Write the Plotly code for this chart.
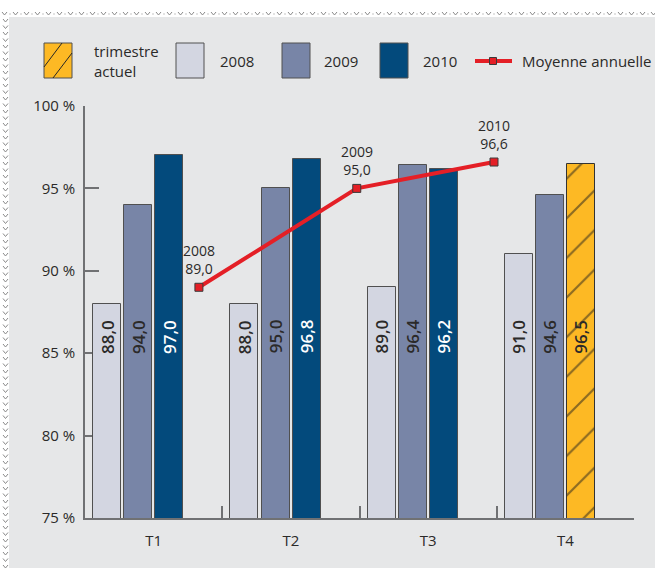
import plotly.graph_objects as go

# ---- data -------------------------------------------------------------
quarters = ["T1", "T2", "T3", "T4"]
vals_2008 = [88.0, 88.0, 89.0, 91.0]
vals_2009 = [94.0, 95.0, 96.4, 94.6]
vals_2010 = [97.0, 96.8, 96.2]          # T1..T3
current_quarters = ["T4"]
current_values = [96.5]
avg_years = ["2008", "2009", "2010"]
avg_values = [89.0, 95.0, 96.6]
avg_pos = [0.33, 1.48, 2.48]             # position on the quarter scale
y_ticks = [75, 80, 85, 90, 95, 100]
y_ticktext = ["75 %", "80 %", "85 %", "90 %", "95 %", "100 %"]

# ---- styling ----------------------------------------------------------
W, H = 655, 568
ML, MR, MT, MB = 85, 21, 106, 50
FONT = "Open Sans"
TXT = "#2b2a29"
AXIS = "#707173"
BG = "#e6e7e8"
C2008, C2009, C2010 = "#d3d6e1", "#7885a7", "#034a7c"
CYEL, CRED = "#fdb924", "#e41f26"
EDGE = "#505050"
BAR_W = 0.204
BAR_OFF = [-0.44, -0.214, 0.012]         # left edge of each year slot


def fr(v):
    return f"{v:.1f}".replace(".", ",")


def px(x):
    return (x - ML) / (W - ML - MR)


def py(y):
    return (H - MB - y) / (H - MT - MB)


fig = go.Figure()

series = [
    ("2008", quarters, vals_2008, C2008, 0, TXT),
    ("2009", quarters, vals_2009, C2009, 1, TXT),
    ("2010", quarters[:3], vals_2010, C2010, 2, "white"),
]
annotations = []
for name, xs, ys, col, slot, tcol in series:
    fig.add_trace(go.Bar(
        x=xs, y=ys, name=name, width=BAR_W, offset=BAR_OFF[slot],
        marker=dict(color=col, line=dict(color=EDGE, width=1)),
        showlegend=False, hoverinfo="x+y",
    ))
    for q, v in zip(xs, ys):
        annotations.append(dict(
            xref="x2", yref="y", x=quarters.index(q) + BAR_OFF[slot] + BAR_W / 2,
            y=86, text=fr(v), textangle=-90, showarrow=False,
            font=dict(family=FONT, size=17, color=tcol, weight=600),
        ))

fig.add_trace(go.Bar(
    x=current_quarters, y=current_values, name="trimestre actuel",
    width=BAR_W, offset=BAR_OFF[2],
    marker=dict(color=CYEL, line=dict(color="#333333", width=1),
                pattern=dict(shape="/", fgcolor="#1e1e1e", size=28,
                             solidity=0.08, fillmode="overlay")),
    showlegend=False,
))
for q, v in zip(current_quarters, current_values):
    annotations.append(dict(
        xref="x2", yref="y", x=quarters.index(q) + BAR_OFF[2] + BAR_W / 2,
        y=86, text=fr(v), textangle=-90, showarrow=False,
        font=dict(family=FONT, size=17, color=TXT, weight=600),
    ))

# yearly average line
fig.add_trace(go.Scatter(
    x=avg_pos, y=avg_values, xaxis="x2", yaxis="y", mode="lines+markers",
    line=dict(color=CRED, width=4),
    marker=dict(symbol="square", size=8, color=CRED,
                line=dict(color="#3a3a3a", width=1)),
    cliponaxis=False, showlegend=False, name="Moyenne annuelle",
))
for xp, yr, v in zip(avg_pos, avg_years, avg_values):
    annotations.append(dict(
        xref="x2", yref="y", x=xp, y=v, text=f"{yr}<br>{fr(v)}",
        showarrow=False, yanchor="bottom", yshift=7,
        font=dict(family=FONT, size=14, color=TXT),
    ))

# ---- decorative frame and hand-made legend ---------------------------
shapes = [dict(type="rect", xref="paper", yref="paper", layer="below",
               x0=px(9), x1=px(W), y0=py(17), y1=py(H),
               fillcolor=BG, line=dict(width=0))]

# zigzag border along the top and left edges
top_path = ""
x = 2
while x < W:
    top_path += f"M{px(x)},{py(12)} L{px(x + 2.5)},{py(15)} L{px(x + 5)},{py(12)} "
    top_path += f"M{px(x + 7.5)},{py(14)} L{px(x + 8.5)},{py(14)} "
    x += 11
left_path = ""
y = 19
while y < H:
    left_path += f"M{px(3)},{py(y)} L{px(5.5)},{py(y + 3)} L{px(8)},{py(y)} "
    y += 6.5
for p in (top_path, left_path):
    shapes.append(dict(type="path", xref="paper", yref="paper", path=p,
                       line=dict(color="#8a8a8a", width=1)))

SW_T, SW_B = 43, 78
legend_boxes = [(44, CYEL), (176, C2008), (282, C2009), (380, C2010)]
for x0, col in legend_boxes:
    shapes.append(dict(type="rect", xref="paper", yref="paper",
                       x0=px(x0), x1=px(x0 + 28), y0=py(SW_B), y1=py(SW_T),
                       fillcolor=col, line=dict(color=EDGE, width=1)))
for (a, b), (c, d) in [((44, 67), (62, 43)), ((53, 78), (72, 53))]:
    shapes.append(dict(type="line", xref="paper", yref="paper",
                       x0=px(a), y0=py(b), x1=px(c), y1=py(d),
                       line=dict(color="#262626", width=1)))
shapes.append(dict(type="line", xref="paper", yref="paper",
                   x0=px(475), x1=px(512), y0=py(61), y1=py(61),
                   line=dict(color=CRED, width=4)))
shapes.append(dict(type="rect", xref="paper", yref="paper",
                   x0=px(489.5), x1=px(496.5), y0=py(64.5), y1=py(57.5),
                   fillcolor=CRED, line=dict(color="#3a3a3a", width=1)))

legend_texts = [(92, "trimestre<br>actuel"), (218, "2008"), (322, "2009"),
                (421, "2010"), (520, "Moyenne annuelle")]
for x0, t in legend_texts:
    annotations.append(dict(
        xref="paper", yref="paper", x=px(x0), y=py(61), text=t,
        xanchor="left", yanchor="middle", align="left", showarrow=False,
        font=dict(family=FONT, size=15, color=TXT),
    ))

fig.update_layout(
    width=W, height=H, margin=dict(l=ML, r=MR, t=MT, b=MB),
    paper_bgcolor="white", plot_bgcolor="rgba(0,0,0,0)",
    barmode="overlay", bargap=0,
    font=dict(family=FONT, color=TXT),
    shapes=shapes, annotations=annotations,
    xaxis=dict(type="category", categoryorder="array", categoryarray=quarters,
               range=[-0.5, 3.5], tickson="boundaries", ticks="inside",
               ticklen=12, tickwidth=1.5, tickcolor=AXIS, showline=True,
               linecolor=AXIS, linewidth=1.5, showgrid=False, zeroline=False,
               tickfont=dict(family=FONT, size=15, color=TXT),
               ticklabelstandoff=8, layer="below traces"),
    xaxis2=dict(overlaying="x", range=[-0.5, 3.5], visible=False),
    yaxis=dict(range=[75, 100], tickvals=y_ticks, ticktext=y_ticktext,
               ticks="inside", ticklen=14, tickwidth=1.5, tickcolor=AXIS,
               showline=True, linecolor=AXIS, linewidth=1.5, showgrid=False,
               zeroline=False, tickfont=dict(family=FONT, size=15, color=TXT),
               ticklabelstandoff=5, layer="below traces"),
    hovermode="closest",
)

fig.write_html("out.html")
